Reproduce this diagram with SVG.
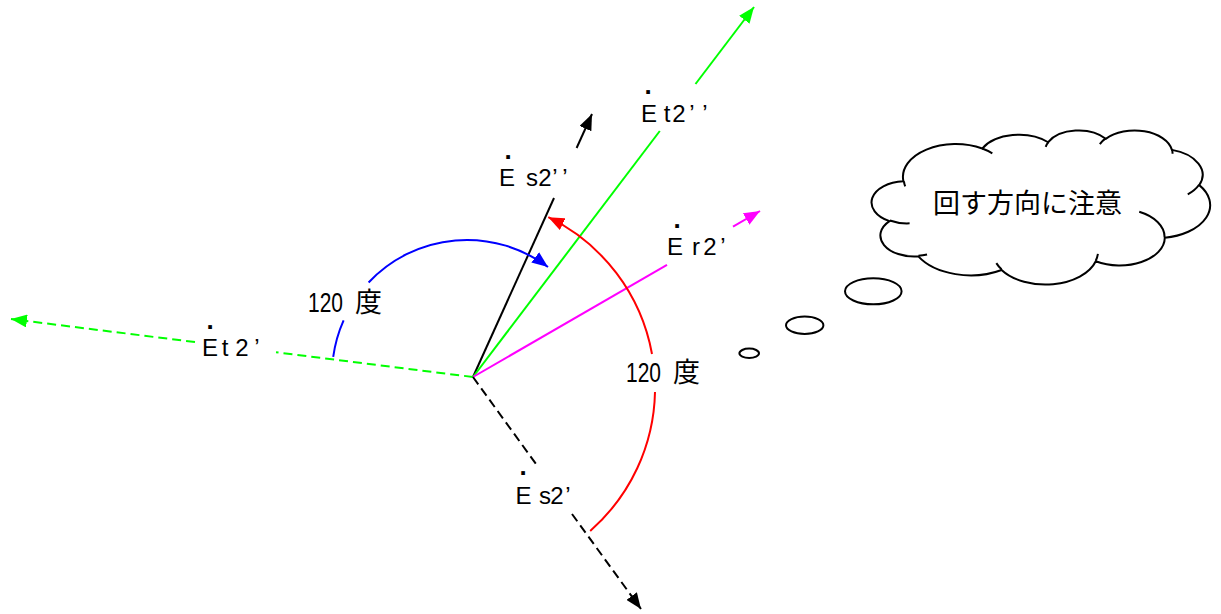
<svg xmlns="http://www.w3.org/2000/svg" width="1221" height="614" viewBox="0 0 1221 614">
<style>
.ln{fill:none;stroke-width:2;stroke-linecap:butt}
.dash{stroke-dasharray:9 5}
.lbl{font-family:"Liberation Sans",Arial,sans-serif;font-size:24px;fill:#000}
.dot{font-family:"Liberation Sans",Arial,sans-serif;font-size:26px;font-weight:bold;fill:#000}
.num{font-family:"Liberation Sans",Arial,sans-serif;font-size:28px;fill:#000}
.jp{font-family:"Noto Sans CJK JP","Noto Sans CJK SC",sans-serif;fill:#000}
.cloud{fill:#fff;stroke:#000;stroke-width:2}
.tick{fill:none;stroke:#000;stroke-width:2}
</style>
<defs>
<marker id="ahK" markerUnits="userSpaceOnUse" markerWidth="16" markerHeight="13" refX="16" refY="6.5" orient="auto" viewBox="0 0 16 13"><path d="M0,0 L16,6.5 L0,13 Z" fill="#000"/></marker>
<marker id="ahG" markerUnits="userSpaceOnUse" markerWidth="16" markerHeight="13" refX="16" refY="6.5" orient="auto" viewBox="0 0 16 13"><path d="M0,0 L16,6.5 L0,13 Z" fill="#00ff00"/></marker>
<marker id="ahM" markerUnits="userSpaceOnUse" markerWidth="16" markerHeight="13" refX="16" refY="6.5" orient="auto" viewBox="0 0 16 13"><path d="M0,0 L16,6.5 L0,13 Z" fill="#ff00ff"/></marker>
<marker id="ahB" markerUnits="userSpaceOnUse" markerWidth="16" markerHeight="13" refX="16" refY="6.5" orient="auto" viewBox="0 0 16 13"><path d="M0,0 L16,6.5 L0,13 Z" fill="#0000ff"/></marker>
<marker id="ahR" markerUnits="userSpaceOnUse" markerWidth="16" markerHeight="13" refX="16" refY="6.5" orient="auto" viewBox="0 0 16 13"><path d="M0,0 L16,6.5 L0,13 Z" fill="#ff0000"/></marker>
</defs>
<rect width="1221" height="614" fill="#fff"/>

<g id="connectors">
  <path class="ln" stroke="#000" d="M473,377 L554,198"/>
  <path class="ln" stroke="#000" d="M576.6,148 L592,114" marker-end="url(#ahK)"/>
  <path class="ln" stroke="#00ff00" d="M473,377 L659.8,131"/>
  <path class="ln" stroke="#00ff00" d="M695.5,84 L754,7" marker-end="url(#ahG)"/>
  <path class="ln" stroke="#ff00ff" d="M473,377 L667,264.8"/>
  <path class="ln" stroke="#ff00ff" d="M733,226.6 L760,211" marker-end="url(#ahM)"/>
  <path class="ln dash" stroke="#00ff00" d="M473,377 L276,352.3"/>
  <path class="ln dash" stroke="#00ff00" d="M195,342.1 L11,319" marker-end="url(#ahG)"/>
  <path class="ln dash" stroke="#000" d="M473,377 L536,464"/>
  <path class="ln dash" stroke="#000" d="M572,514 L641,609" marker-end="url(#ahK)"/>
  <path class="ln" stroke="#0000ff" d="M333.2,356.9 A135,135 0 0 1 343.6,320.3"/>
  <path class="ln" stroke="#0000ff" d="M368.6,282.5 A135,135 0 0 1 548,267" marker-end="url(#ahB)"/>
  <path class="ln" stroke="#ff0000" d="M590.2,530.9 A190,190 0 0 0 655,392"/>
  <path class="ln" stroke="#ff0000" d="M652,354 A190,190 0 0 0 548.3,217.2" marker-end="url(#ahR)"/>
</g>

<g id="label-Et2pp">
  <text class="dot" x="648" y="93.5" text-anchor="middle">.</text>
  <text class="lbl" x="649 667 679 692 705" y="122" text-anchor="middle">Et2’’</text>
</g>
<g id="label-Es2pp">
  <text class="dot" x="508" y="158.5" text-anchor="middle">.</text>
  <text class="lbl" x="507 532 545 555 565" y="186" text-anchor="middle">Es2’’</text>
</g>
<g id="label-Er2p">
  <text class="dot" x="677" y="227.5" text-anchor="middle">.</text>
  <text class="lbl" x="675 696 710 723" y="255" text-anchor="middle">Er2’</text>
</g>
<g id="label-Et2p">
  <text class="dot" x="210" y="328.5" text-anchor="middle">.</text>
  <text class="lbl" x="210 225 242 257" y="356" text-anchor="middle">Et2’</text>
</g>
<g id="label-Es2p">
  <text class="dot" x="523" y="474.5" text-anchor="middle">.</text>
  <text class="lbl" x="523.5 545 557 568" y="504" text-anchor="middle">Es2’</text>
</g>
<g id="label-angle-blue">
  <text class="num" x="308" y="312" textLength="35" lengthAdjust="spacingAndGlyphs">120</text>
  <text class="jp" x="355" y="312" font-size="27">度</text>
</g>
<g id="label-angle-red">
  <text class="num" x="626" y="382" textLength="35" lengthAdjust="spacingAndGlyphs">120</text>
  <text class="jp" x="673" y="382" font-size="27">度</text>
</g>

<g id="thought-cloud">
  <path class="cloud" d="M903.42,181.23 A52.68,32.76 0 0 1 982.26,148.55 A41.60,25.91 0 0 1 1048.18,142.24 A34.05,21.19 0 0 1 1105.73,138.85 A37.89,23.51 0 0 1 1171.93,149.88 A41.60,25.93 0 0 1 1199.23,185.11 A52.85,32.87 0 0 1 1164.80,237.67 A45.13,28.04 0 0 1 1095.78,261.24 A52.67,32.85 0 0 1 1001.58,269.97 A60.22,37.58 0 0 1 918.34,256.44 A34.01,21.10 0 0 1 889.51,221.09 A33.90,21.19 0 0 1 903.42,181.23 Z"/>
  <path class="tick" d="M909.61,223.31 A33.90,21.19 0 0 1 889.84,220.47 M927.04,254.41 A34.01,21.10 0 0 1 918.43,255.76 M1001.54,269.35 A52.67,32.85 0 0 1 996.34,263.15 M1097.88,253.88 A52.67,32.85 0 0 1 1095.80,260.68 M1139.24,211.83 A45.13,28.04 0 0 1 1164.59,237.26 M1199.06,184.73 A41.60,25.93 0 0 1 1187.75,194.29 M1171.96,149.34 A37.89,23.51 0 0 1 1172.56,153.85 M1099.84,144.09 A37.89,23.51 0 0 1 1105.62,138.34 M1045.72,146.83 A34.05,21.19 0 0 1 1048.52,141.87 M982.21,148.51 A52.68,32.76 0 0 1 992.34,153.31 M905.19,186.29 A52.68,32.76 0 0 1 903.92,181.26"/>
  <ellipse class="cloud" cx="873.3" cy="291.3" rx="28.3" ry="13"/>
  <ellipse class="cloud" cx="804.7" cy="325.3" rx="18.7" ry="8.7"/>
  <ellipse class="cloud" cx="749.2" cy="353.3" rx="9.8" ry="4.7"/>
  <text class="jp" x="933" y="213" font-size="27">回す方向に注意</text>
</g>
</svg>
